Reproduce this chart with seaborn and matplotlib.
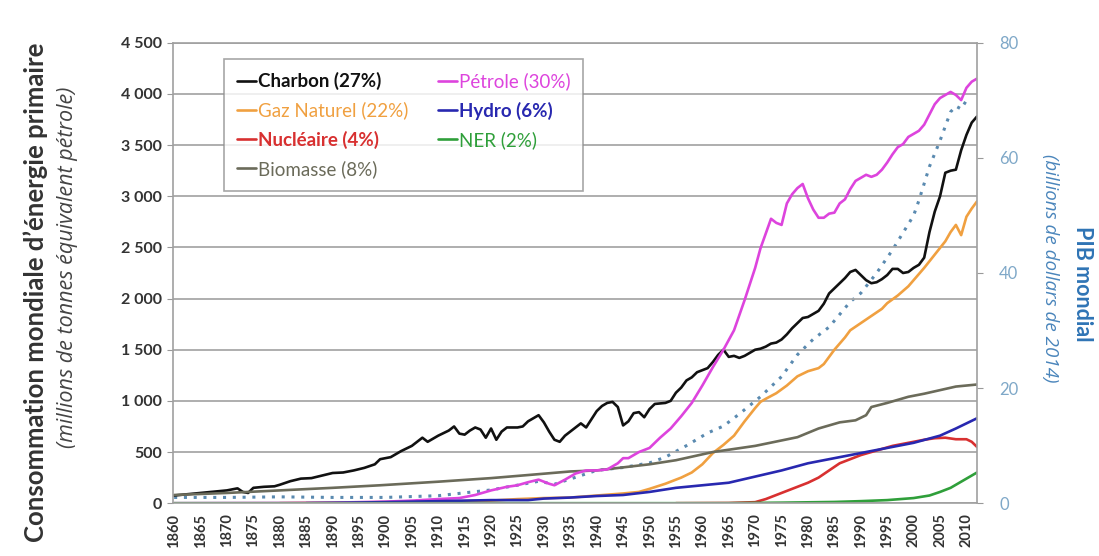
import numpy as np
import pandas as pd
import matplotlib
matplotlib.use("Agg")
import matplotlib.pyplot as plt
import seaborn as sns
from matplotlib.ticker import FuncFormatter, MultipleLocator

# ---------------------------------------------------------------
# Data (Mtep, left axis; PIB on right axis)
# ---------------------------------------------------------------
charbon_years = [1860, 1862, 1864, 1866, 1868, 1870, 1872, 1873, 1874, 1875, 1877, 1879,
                 1880, 1882, 1884, 1886, 1888, 1890, 1892, 1894, 1896, 1898, 1899, 1901,
                 1903, 1905, 1907, 1908, 1910, 1912, 1913, 1914, 1915, 1916, 1917, 1918,
                 1919, 1920, 1921, 1922, 1923, 1925, 1926, 1927, 1928, 1929, 1930, 1931,
                 1932, 1933, 1934, 1935, 1936, 1937, 1938, 1939, 1940, 1941, 1942, 1943,
                 1944, 1945, 1946, 1947, 1948, 1949, 1950, 1951, 1952, 1953, 1954, 1955,
                 1956, 1957, 1958, 1959, 1960, 1961, 1962, 1963, 1964, 1965, 1966, 1967,
                 1968, 1969, 1970, 1971, 1972, 1973, 1974, 1975, 1976, 1977, 1978, 1979,
                 1980, 1981, 1982, 1983, 1984, 1985, 1986, 1987, 1988, 1989, 1990, 1991,
                 1992, 1993, 1994, 1995, 1996, 1997, 1998, 1999, 2000, 2001, 2002, 2003,
                 2004, 2005, 2006, 2007, 2008, 2009, 2010, 2011, 2012]
charbon_vals = [75, 85, 95, 105, 115, 125, 145, 110, 100, 150, 160, 165,
                180, 215, 240, 245, 270, 295, 300, 320, 345, 380, 430, 450,
                510, 560, 640, 600, 660, 710, 750, 680, 670, 710, 740, 720,
                640, 730, 620, 700, 740, 740, 750, 800, 830, 860, 790, 700,
                620, 600, 660, 700, 740, 780, 740, 820, 900, 950, 980, 990,
                940, 760, 800, 880, 890, 840, 920, 970, 975, 980, 1000, 1080,
                1130, 1200, 1230, 1280, 1300, 1320, 1380, 1450, 1500, 1430, 1440, 1420,
                1440, 1470, 1500, 1510, 1530, 1560, 1570, 1600, 1650, 1710, 1760, 1810,
                1820, 1850, 1880, 1950, 2050, 2100, 2150, 2200, 2260, 2280, 2230, 2180,
                2150, 2160, 2190, 2230, 2290, 2290, 2250, 2260, 2300, 2330, 2400, 2650,
                2850, 3000, 3230, 3250, 3260, 3450, 3600, 3720, 3780]

petrole_years = [1860, 1880, 1890, 1900, 1905, 1910, 1914, 1917, 1920, 1923, 1925, 1927,
                 1929, 1931, 1932, 1934, 1936, 1938, 1940, 1942, 1944, 1945, 1946, 1948,
                 1950, 1952, 1954, 1956, 1958, 1960, 1962, 1964, 1966, 1968, 1970, 1971,
                 1973, 1974, 1975, 1976, 1977, 1978, 1979, 1980, 1981, 1982, 1983, 1984,
                 1985, 1986, 1987, 1988, 1989, 1990, 1991, 1992, 1993, 1994, 1995, 1996,
                 1997, 1998, 1999, 2000, 2001, 2002, 2003, 2004, 2005, 2006, 2007, 2008,
                 2009, 2010, 2011, 2012]
petrole_vals = [0, 2, 5, 15, 25, 40, 50, 80, 125, 160, 175, 205,
                230, 190, 175, 230, 290, 320, 320, 330, 390, 440, 440, 500,
                540, 640, 730, 850, 980, 1150, 1330, 1500, 1690, 1985, 2300, 2490,
                2780, 2740, 2720, 2930, 3020, 3080, 3120, 2980, 2870, 2790, 2790, 2830,
                2840, 2930, 2970, 3070, 3150, 3180, 3210, 3190, 3210, 3260, 3330, 3410,
                3480, 3510, 3580, 3610, 3640, 3700, 3800, 3900, 3960, 3990, 4020, 3990,
                3940, 4060, 4120, 4150]

gaz_years = [1880, 1890, 1900, 1910, 1920, 1925, 1930, 1935, 1940, 1945, 1948, 1950,
             1953, 1956, 1958, 1960, 1962, 1964, 1966, 1968, 1970, 1971, 1972, 1974,
             1976, 1978, 1980, 1982, 1983, 1985, 1987, 1988, 1990, 1992, 1994, 1995,
             1997, 1999, 2000, 2002, 2004, 2006, 2007, 2008, 2009, 2010, 2011, 2012]
gaz_vals = [0, 5, 10, 15, 25, 40, 50, 55, 75, 95, 110, 140,
            190, 250, 300, 380, 490, 570, 660, 800, 930, 990, 1020, 1075,
            1150, 1240, 1290, 1320, 1360, 1500, 1620, 1690, 1760, 1830, 1900, 1955,
            2030, 2120, 2180, 2300, 2430, 2560, 2650, 2720, 2620, 2800, 2880, 2950]

hydro_years = [1885, 1890, 1900, 1910, 1920, 1927, 1930, 1935, 1940, 1945, 1950, 1955,
               1960, 1965, 1970, 1975, 1980, 1985, 1990, 1995, 2000, 2005, 2008, 2010, 2012]
hydro_vals = [0, 3, 10, 20, 30, 30, 45, 55, 70, 80, 110, 150,
              175, 200, 260, 320, 390, 440, 490, 540, 590, 660, 730, 780, 830]

nucleaire_years = [1955, 1965, 1970, 1972, 1974, 1976, 1978, 1980, 1982, 1984, 1986, 1988,
                   1990, 1992, 1994, 1996, 1998, 2000, 2002, 2004, 2006, 2008, 2010, 2011, 2012]
nucleaire_vals = [0, 2, 10, 40, 80, 120, 160, 200, 250, 320, 390, 430,
                  470, 500, 530, 560, 580, 600, 620, 635, 640, 625, 625, 600, 550]

ner_years = [1860, 1965, 1975, 1985, 1990, 1995, 2000, 2003, 2005, 2007, 2009, 2011, 2012]
ner_vals = [0, 0, 5, 12, 20, 30, 50, 75, 110, 150, 210, 270, 300]

biomasse_years = [1860, 1870, 1880, 1890, 1899, 1910, 1920, 1927, 1935, 1940, 1945, 1950,
                  1955, 1962, 1970, 1978, 1982, 1986, 1989, 1991, 1992, 1995, 1999, 2002,
                  2005, 2008, 2011, 2012]
biomasse_vals = [80, 100, 125, 150, 175, 210, 245, 275, 310, 320, 350, 380,
                 420, 500, 560, 645, 730, 790, 810, 860, 940, 980, 1040, 1070,
                 1105, 1140, 1155, 1160]

pib_years = [1860, 1870, 1880, 1890, 1900, 1910, 1920, 1929, 1932, 1940, 1945,
             1950, 1953, 1957, 1961, 1964, 1967, 1971, 1975, 1978, 1981, 1984, 1988,
             1990, 1993, 1996, 1998, 2000, 2001, 2003, 2005, 2007, 2008, 2009, 2010]
pib_vals = [1.0, 1.0, 1.1, 1.0, 1.0, 1.3, 2.3, 3.8, 3.3, 5.7, 6.2,
            7.0, 8.0, 10.0, 12.2, 13.4, 15.5, 18.5, 22.0, 25.8, 28.5, 30.6, 35.0,
            36.5, 40.0, 44.0, 47.0, 50.0, 52.6, 58.5, 63.0, 68.0, 69.0, 68.5, 70.0]

series = [
    ("Charbon (27%)",     charbon_years,   charbon_vals,   "#111111", "bold"),
    ("Gaz Naturel (22%)", gaz_years,       gaz_vals,       "#f0a040", "normal"),
    ("Nucléaire (4%)",    nucleaire_years, nucleaire_vals, "#d83030", "bold"),
    ("Biomasse (8%)",     biomasse_years,  biomasse_vals,  "#6b6b5a", "normal"),
    ("Pétrole (30%)",     petrole_years,   petrole_vals,   "#dd44dd", "normal"),
    ("Hydro (6%)",        hydro_years,     hydro_vals,     "#2828b0", "bold"),
    ("NER (2%)",          ner_years,       ner_vals,       "#2f9f3a", "normal"),
]

sns.set_style("white")
plt.rcParams["font.family"] = ["Lato", "DejaVu Sans"]

fig = plt.figure(figsize=(10.99, 5.56), dpi=100)
ax = fig.add_axes([0.157, 0.095, 0.889 - 0.157, 0.923 - 0.095])

# right axis: PIB mondial (drawn behind the energy curves)
ax2 = ax.twinx()
sns.lineplot(x=pib_years, y=pib_vals, ax=ax2, color="#5a8ab0", linewidth=2.2,
             linestyle=(0, (1, 2.2)))
ax2.set_ylim(0, 80)
ax2.set_yticks([0, 20, 40, 60, 80])
ax2.tick_params(axis="y", labelsize=12, colors="#7fa8c8", length=4, color="#999999", pad=12)
ax2.set_ylabel("")
for s in ["left", "bottom", "right", "top"]:
    ax2.spines[s].set_visible(False)
ax.set_zorder(ax2.get_zorder() + 1)
ax.patch.set_visible(False)
ax2.patch.set_visible(True)
ax2.patch.set_facecolor("white")

for name, yrs, vals, col, _ in series:
    sns.lineplot(x=yrs, y=vals, ax=ax, color=col, linewidth=1.9, label=name)

ax.set_xlim(1859.7, 2012)
ax.set_ylim(0, 4500)
ax.yaxis.set_major_locator(MultipleLocator(500))
ax.yaxis.set_major_formatter(FuncFormatter(lambda v, p: f"{int(v):,}".replace(",", " ")))
ax.set_xticks(list(range(1860, 2011, 5)))
ax.set_xticklabels([str(y) for y in range(1860, 2011, 5)], rotation=90,
                   fontsize=10.5, fontweight="bold", color="#333333")
ax.tick_params(axis="y", labelsize=11.5, colors="#333333", length=4, color="#999999")
ax.tick_params(axis="x", length=4, color="#999999")
for lab in ax.get_yticklabels():
    lab.set_fontweight("bold")
ax2.grid(False)
ax.grid(axis="y", color="#a8a8a8", linewidth=1.3, zorder=0)
ax.grid(axis="x", visible=False)
for s in ["left", "bottom", "right", "top"]:
    ax.spines[s].set_color("#a0a0a0")
    ax.spines[s].set_linewidth(1.2)

leg = ax.legend(ncol=2, loc="upper left", bbox_to_anchor=(0.052, 0.985),
                fontsize=13.5, handlelength=1.0, handletextpad=0.1,
                columnspacing=1.6, labelspacing=0.6, frameon=True,
                fancybox=False, borderpad=0.7)
leg.get_frame().set_edgecolor("#909090")
leg.get_frame().set_linewidth(1.2)
for txt, (_, _, _, col, w) in zip(leg.get_texts(), series):
    txt.set_color(col)
    txt.set_fontweight(w)

fig.text(0.032, 0.475, "Consommation mondiale d\u2019énergie primaire", rotation=90,
         ha="center", va="center", fontsize=18.5, fontweight="bold", color="#333333")
fig.text(0.061, 0.52, "(millions de tonnes équivalent pétrole)", rotation=90,
         ha="center", va="center", fontsize=15.5, style="italic", color="#444444",
         family=["Open Sans", "DejaVu Sans"])
fig.text(0.985, 0.49, "PIB mondial", rotation=270, ha="center", va="center",
         fontsize=15.5, fontweight="bold", color="#2f74b5")
fig.text(0.955, 0.518, "(billions de dollars de 2014)", rotation=270, ha="center",
         va="center", fontsize=13.5, style="italic", color="#4a85bb",
         family=["Open Sans", "DejaVu Sans"])

fig.savefig("out.png", dpi=100)
